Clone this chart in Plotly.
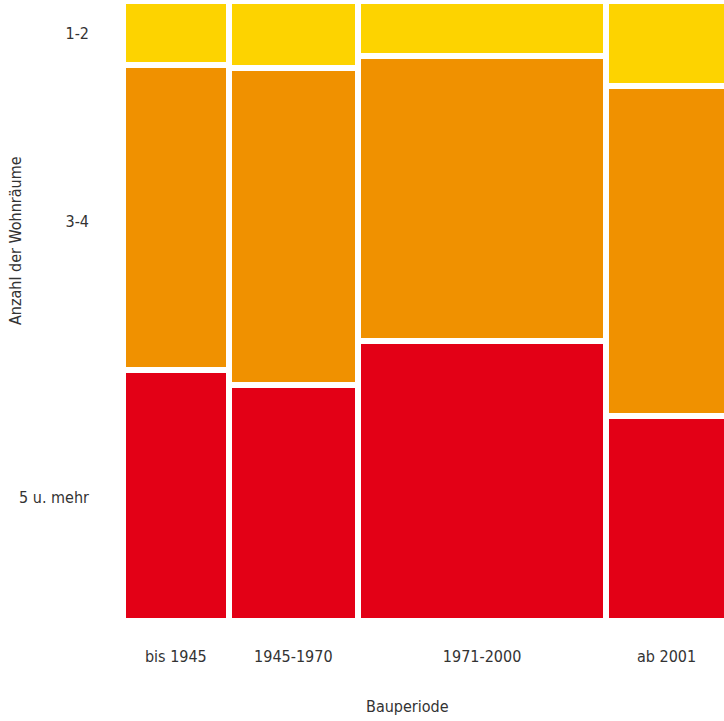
import plotly.graph_objects as go
import numpy as np

# Data (shares in %)
periods = ["bis 1945", "1945-1970", "1971-2000", "ab 2001"]
period_share = [17.5, 21.4, 41.1, 20.0]  # column widths
rooms = ["1-2", "3-4", "5 u. mehr"]
share_1_2 = [10.3, 10.8, 8.9, 13.7]
share_3_4 = [49.2, 51.2, 46.0, 53.2]
share_5_plus = [40.5, 38.0, 45.1, 33.1]
room_tick_pos = [5.2, 35.6, 80.0]

colors = ["#FDD300", "#F09100", "#E30016"]
font_family = "DejaVu Sans Condensed, Liberation Sans Narrow, DejaVu Sans, sans-serif"

widths = np.array(period_share, dtype=float)
widths = widths / widths.sum() * 100
lefts = np.concatenate([[0], np.cumsum(widths)[:-1]])
centers = lefts + widths / 2

fig = go.Figure()
base = np.zeros(len(periods))
for name, vals, col in zip(rooms, [share_1_2, share_3_4, share_5_plus], colors):
    v = np.array(vals, dtype=float)
    fig.add_trace(go.Bar(
        x=centers, y=v, base=base, width=widths, name=name,
        marker=dict(color=col, line=dict(color="white", width=6)),
        hoverinfo="skip", showlegend=False,
    ))
    base = base + v

tick_font = dict(family=font_family, size=16, color="#333333")
fig.update_layout(
    width=724, height=721,
    margin=dict(l=123, r=0, t=1, b=100),
    paper_bgcolor="white", plot_bgcolor="white",
    barmode="overlay", bargap=0,
    xaxis=dict(range=[0, 100 * 601 / 604], tickvals=list(centers), ticktext=periods,
               showgrid=False, zeroline=False, showline=False, ticks="",
               tickfont=tick_font, ticklabelstandoff=24, fixedrange=True),
    yaxis=dict(range=[100, 0], tickvals=room_tick_pos, ticktext=rooms,
               showgrid=False, zeroline=False, showline=False, ticks="",
               tickfont=tick_font, ticklabelstandoff=33, fixedrange=True),
    annotations=[
        dict(text="Bauperiode", xref="paper", yref="paper", x=0.474, y=-0.1387,
             xanchor="center", yanchor="middle", showarrow=False, font=tick_font),
        dict(text="Anzahl der Wohnräume", xref="paper", yref="paper", x=-0.1797, y=0.6129,
             xanchor="center", yanchor="middle", textangle=-90, showarrow=False, font=tick_font),
    ],
)

fig.write_html("out.html", config={"displayModeBar": False},
               post_script="document.body.style.margin='0';document.body.style.overflow='hidden';")
